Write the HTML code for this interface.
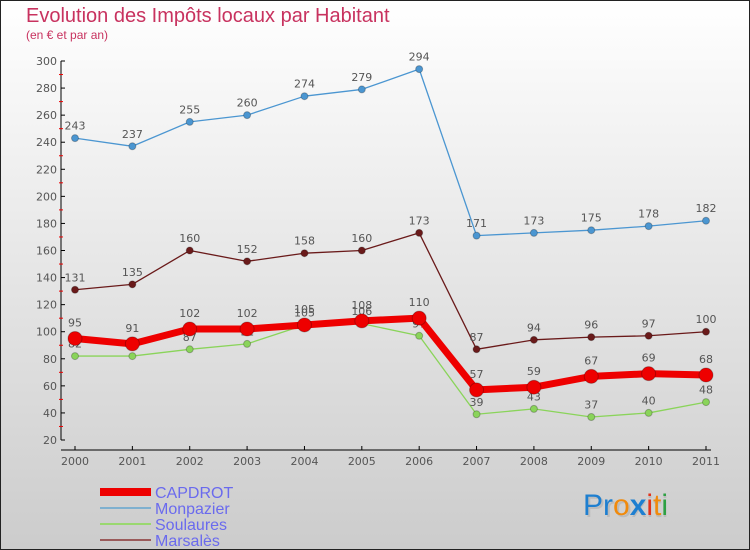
<!DOCTYPE html>
<html><head><meta charset="utf-8"><style>
body{margin:0;}
#wrap{width:750px;height:550px;position:relative;overflow:hidden;}
svg{display:block;font-family:"DejaVu Sans","Liberation Sans",sans-serif;}
</style></head><body>
<div id="wrap">
<svg id="chart" width="750" height="550" xmlns="http://www.w3.org/2000/svg">
<defs><linearGradient id="bg" x1="0" y1="0" x2="0" y2="1"><stop offset="0" stop-color="#ffffff"/><stop offset="1" stop-color="#cccccc"/></linearGradient></defs>
<rect x="0.5" y="0.5" width="749" height="549" fill="url(#bg)" stroke="#222"/>
<text x="26" y="22" font-size="20" fill="#c8325f" font-family="Liberation Sans, sans-serif">Evolution des Impôts locaux par Habitant</text>
<text x="26" y="39" font-size="12" fill="#c8325f" font-family="Liberation Sans, sans-serif">(en € et par an)</text>
<g id="axes"></g>
<g id="series"></g>
<g id="legend"></g>
<g font-family="Liberation Sans, sans-serif" font-size="30">
<text x="585" y="517" fill="#bbb"><tspan>Proxiti</tspan></text>
<text x="583" y="515"><tspan fill="#1e7fd0">Pr</tspan><tspan fill="#f08a0c">o</tspan><tspan fill="#1e7fd0" font-weight="bold">x</tspan><tspan fill="#e3311a">i</tspan><tspan fill="#f08a0c">t</tspan><tspan fill="#2ea043">i</tspan></text>
</g>
</svg>
</div>
<script>
const years=["2000","2001","2002","2003","2004","2005","2006","2007","2008","2009","2010","2011"];
const capdrot=[95,91,102,102,105,108,110,57,59,67,69,68];
const monpazier=[243,237,255,260,274,279,294,171,173,175,178,182];
const soulaures=[82,82,87,91,105,106,97,39,43,37,40,48];
const marsales=[131,135,160,152,158,160,173,87,94,96,97,100];
const yTicks=[20,40,60,80,100,120,140,160,180,200,220,240,260,280,300];
const seriesNames=["CAPDROT","Monpazier","Soulaures","Marsalès"];

const NS="http://www.w3.org/2000/svg";
function x(i){return 75+i*(706-75)/11;}
function y(v){return 440-(v-20)*(440-61)/280;}
function mk(tag,attrs,parent){const e=document.createElementNS(NS,tag);for(const k in attrs)e.setAttribute(k,attrs[k]);parent.appendChild(e);return e;}

const axes=document.getElementById('axes');
let yl=mk('line',{x1:61,y1:61,x2:61,y2:440,stroke:'#000','stroke-width':1},axes);


let xl=mk('line',{x1:61,y1:450,x2:711,y2:450,stroke:'#000','stroke-width':1},axes);


yTicks.forEach((v,i)=>{
  mk('line',{x1:61,y1:y(v),x2:65,y2:y(v),stroke:'#000'},axes);
  if(i<yTicks.length-1){mk('line',{x1:59,y1:y(v+10),x2:63,y2:y(v+10),stroke:'#e00'},axes);}
  const t=mk('text',{x:57,y:y(v)+4,'font-size':11,'text-anchor':'end',fill:'#555'},axes);
  t.textContent=v;
  
  
});
years.forEach((yr,i)=>{
  mk('line',{x1:x(i),y1:446,x2:x(i),y2:450,stroke:'#000'},axes);
  const t=mk('text',{x:x(i),y:465,'font-size':11,'text-anchor':'middle',fill:'#555'},axes);
  t.textContent=yr;
  
  
});

const sg=document.getElementById('series');
function draw(data,name,color,lw,r){
  const g=mk('g',{},sg);
  
  
  const pts=data.map((v,i)=>x(i)+','+y(v)).join(' ');
  mk('polyline',{points:pts,fill:'none',stroke:color,'stroke-width':lw,'stroke-linejoin':'round'},g);
  data.forEach((v,i)=>{
    const c=mk('circle',{cx:x(i),cy:y(v),r:r,fill:color,stroke:'rgba(0,0,0,0.25)','stroke-width':1},g);
    
    
    const t=mk('text',{x:x(i),y:y(v)-(r+5),'font-size':11,'text-anchor':'middle',fill:'#555'},g);
    t.textContent=v;
    
    
  });
}
draw(monpazier,'monpazier','#4b96d1',1.3,3.5);
draw(marsales,'marsales','#6a1a1a',1.3,3.5);
draw(soulaures,'soulaures','#8ad45a',1.3,3.5);
draw(capdrot,'capdrot','#ee0000',7,7);

const lg=document.getElementById('legend');
const lcol=['#ee0000','#7fb0cf','#9ad870','#9a5a5a'];
const lw=[8,2,2,2];
seriesNames.forEach((n,i)=>{
  const yy=492+i*16;
  const l=mk('line',{x1:100,y1:yy,x2:151,y2:yy,stroke:lcol[i],'stroke-width':lw[i]},lg);
  
  
  const t=mk('text',{x:155,y:yy+6,'font-size':16,fill:'#6a6aee','font-family':'Liberation Sans, sans-serif'},lg);
  t.textContent=n;
  
  
});
</script>
</body></html>
